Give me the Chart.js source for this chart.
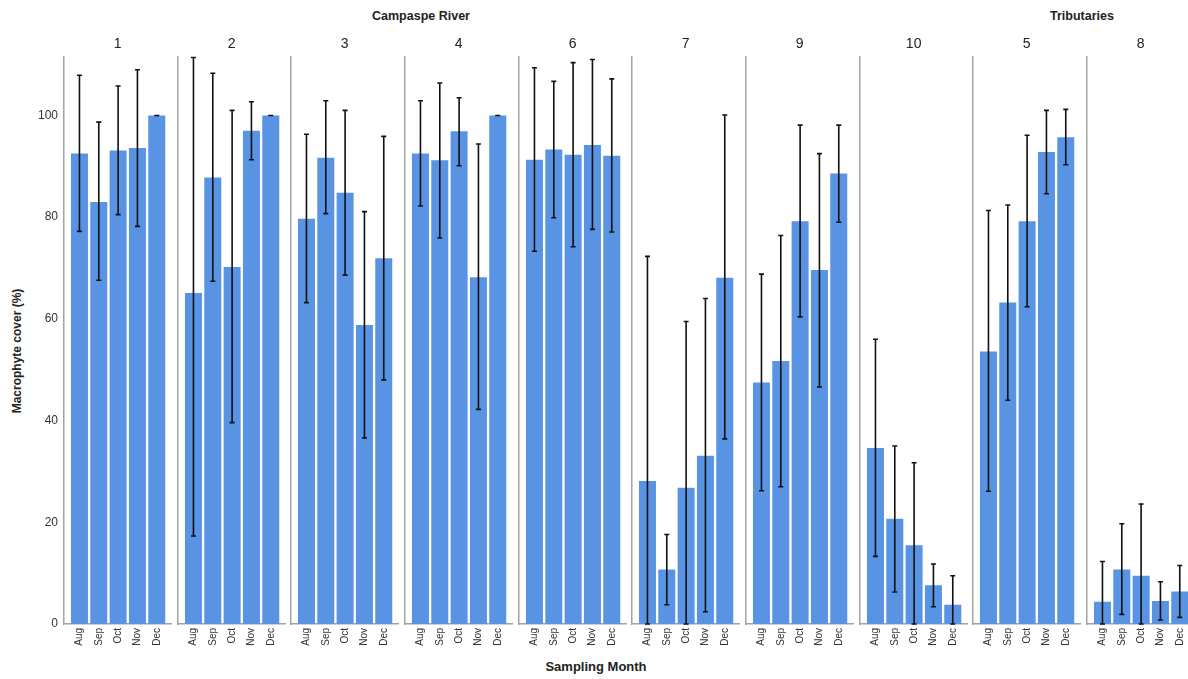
<!DOCTYPE html>
<html>
<head>
<meta charset="utf-8">
<script src="https://cdn.jsdelivr.net/npm/chart.js@4.4.1/dist/chart.umd.min.js"></script>
<style>
  body { margin: 0; background: #fff; }
  #wrap { position: relative; width: 1188px; height: 679px; overflow: hidden; font-family: 'Liberation Sans', Arial, sans-serif; color: #222; }
  #wrap canvas { position: absolute; top: 30px; }
  .lbl { position: absolute; font-weight: bold; white-space: nowrap; transform: translate(-50%, -50%); }
  #ytitle { transform: translate(-50%, -50%) rotate(-90deg); font-size: 12px; }
</style>
</head>
<body>
<div id="wrap">
  <div class="lbl" style="left:421px; top:16px; font-size:12.5px;">Campaspe River</div>
  <div class="lbl" style="left:1082px; top:16px; font-size:12.5px;">Tributaries</div>
  <div class="lbl" id="ytitle" style="left:17px; top:351px;">Macrophyte cover (%)</div>
  <div class="lbl" style="left:596px; top:666px; font-size:13px;">Sampling Month</div>
</div>

<script>
// Données (couverture moyenne + intervalle d'erreur)
const months = ['Aug', 'Sep', 'Oct', 'Nov', 'Dec'];
const siteLabels = ['1', '2', '3', '4', '6', '7', '9', '10', '5', '8'];
const yTicks = [0, 20, 40, 60, 80, 100];

const s1Mean = [92.5, 83.0, 93.1, 93.6, 100];
const s1Low  = [77.2, 67.6, 80.5, 78.2, 100];
const s1High = [107.9, 98.7, 105.8, 109.0, 100];

const s2Mean = [65.1, 87.8, 70.2, 97.0, 100];
const s2Low  = [17.3, 67.4, 39.6, 91.3, 100];
const s2High = [111.4, 108.3, 101.0, 102.7, 100];

const s3Mean = [79.7, 91.7, 84.8, 58.8, 71.9];
const s3Low  = [63.2, 80.7, 68.6, 36.6, 48.0];
const s3High = [96.3, 102.9, 101.0, 81.1, 95.9];

const s4Mean = [92.5, 91.2, 96.9, 68.2, 100];
const s4Low  = [82.2, 75.9, 90.1, 42.2, 100];
const s4High = [102.9, 106.4, 103.5, 94.4, 100];

const s6Mean = [91.3, 93.3, 92.3, 94.2, 92.1];
const s6Low  = [73.3, 79.9, 74.2, 77.6, 77.1];
const s6High = [109.4, 106.7, 110.4, 111.0, 107.2];

const s7Mean = [28.1, 10.7, 26.8, 33.1, 68.1];
const s7Low  = [0, 3.8, 0, 2.4, 36.4];
const s7High = [72.3, 17.6, 59.5, 64.0, 100.1];

const s9Mean = [47.5, 51.7, 79.2, 69.6, 88.6];
const s9Low  = [26.2, 27.0, 60.4, 46.6, 79.0];
const s9High = [68.8, 76.4, 98.1, 92.5, 98.1];

const s10Mean = [34.6, 20.7, 15.5, 7.6, 3.8];
const s10Low  = [13.3, 6.3, 0, 3.4, 0];
const s10High = [56.0, 35.0, 31.7, 11.8, 9.5];

const s5Mean = [53.6, 63.2, 79.2, 92.8, 95.7];
const s5Low  = [26.1, 44.0, 62.4, 84.6, 90.3];
const s5High = [81.3, 82.4, 96.1, 101.0, 101.2];

const s8Mean = [4.4, 10.7, 9.5, 4.5, 6.4];
const s8Low  = [0, 1.9, 0, 0.8, 1.3];
const s8High = [12.3, 19.7, 23.6, 8.3, 11.5];

const means = [s1Mean, s2Mean, s3Mean, s4Mean, s6Mean, s7Mean, s9Mean, s10Mean, s5Mean, s8Mean];
const lows  = [s1Low, s2Low, s3Low, s4Low, s6Low, s7Low, s9Low, s10Low, s5Low, s8Low];
const highs = [s1High, s2High, s3High, s4High, s6High, s7High, s9High, s10High, s5High, s8High];

Chart.defaults.font.family = "'Liberation Sans', Arial, sans-serif";
Chart.defaults.color = '#222';

// Barres d'erreur dessinées à partir des échelles du graphique
const errorBars = {
    id: 'errorBars',
    afterDatasetsDraw(chart) {
        const { ctx, scales: { y } } = chart;
        const ds = chart.data.datasets[0];
        const meta = chart.getDatasetMeta(0);
        ctx.save();
        ctx.strokeStyle = '#111';
        ctx.lineWidth = 1.6;
        meta.data.forEach((bar, i) => {
            const yLo = y.getPixelForValue(ds.errLow[i]);
            const yHi = y.getPixelForValue(ds.errHigh[i]);
            const x = bar.x;
            ctx.beginPath();
            ctx.moveTo(x, yLo); ctx.lineTo(x, yHi);
            ctx.moveTo(x - 2.5, yLo); ctx.lineTo(x + 2.5, yLo);
            ctx.moveTo(x - 2.5, yHi); ctx.lineTo(x + 2.5, yHi);
            ctx.stroke();
        });
        ctx.restore();
    }
};

const wrap = document.getElementById('wrap');
const axisColor = '#a3a3a3';

siteLabels.forEach((site, p) => {
    const first = p === 0;
    const areaLeft = Math.round(64 + p * 113.65);
    const yWidth = first ? 64 : 4;
    const canvas = document.createElement('canvas');
    canvas.width = yWidth + 105 + 4;
    canvas.height = 634;
    canvas.style.left = (areaLeft - yWidth) + 'px';
    wrap.appendChild(canvas);

    new Chart(canvas.getContext('2d'), {
        type: 'bar',
        data: {
            datasets: [{
                data: means[p].map((v, i) => ({ x: i + 1, y: v })),
                errLow: lows[p],
                errHigh: highs[p],
                backgroundColor: '#5894e3',
                borderWidth: 0,
                categoryPercentage: 1,
                barPercentage: 0.88
            }]
        },
        options: {
            responsive: false,
            animation: false,
            layout: { padding: 0 },
            scales: {
                x: {
                    type: 'linear',
                    offset: false,
                    min: 0.2,
                    max: 5.75,
                    afterBuildTicks: s => { s.ticks = months.map((m, i) => ({ value: i + 1 })); },
                    afterFit: s => { s.height = 40; },
                    grid: { display: false, drawTicks: false },
                    border: { display: true, color: axisColor, width: 1.5 },
                    ticks: {
                        autoSkip: false,
                        minRotation: 90,
                        maxRotation: 90,
                        padding: 4,
                        font: { size: 10 },
                        color: '#333',
                        callback: v => months[v - 1]
                    }
                },
                y: {
                    min: 0,
                    max: 111.5,
                    afterBuildTicks: s => { s.ticks = yTicks.map(v => ({ value: v })); },
                    afterFit: s => { s.width = yWidth; },
                    grid: { display: false, drawTicks: false },
                    border: { display: true, color: axisColor, width: 1.5 },
                    ticks: { display: first, padding: 6, font: { size: 12 }, color: '#333' }
                }
            },
            plugins: {
                legend: { display: false },
                tooltip: { enabled: false },
                title: {
                    display: true,
                    text: site,
                    fullSize: false,
                    font: { size: 14, weight: 'normal' },
                    color: '#222',
                    padding: { top: 6, bottom: 4.2 }
                }
            }
        },
        plugins: [errorBars]
    });
});
</script>
</body>
</html>
